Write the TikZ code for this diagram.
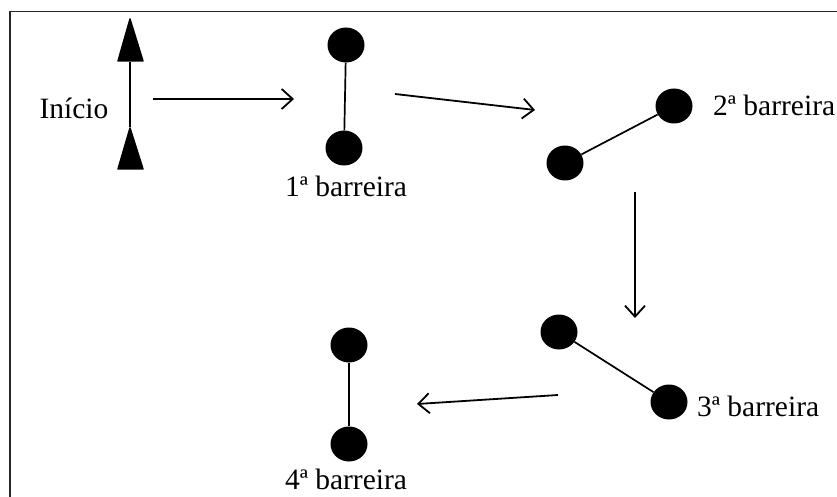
\documentclass[tikz,border=0pt]{standalone}
\usepackage{fontspec}
\setmainfont{Liberation Serif}
\usetikzlibrary{arrows.meta,shapes.geometric}
\begin{document}
\begin{tikzpicture}[x=1pt,y=-1pt,
  ball/.style={ellipse,fill=black,inner sep=0pt,minimum width=37pt,minimum height=35pt},
  rod/.style={line width=1.7pt},
  flow/.style={line width=1.8pt,-{Straight Barb[length=11pt,width=20pt,line width=1.8pt]}},
  lbl/.style={font=\fontsize{29.5}{34}\selectfont,inner sep=0pt},
  flag/.style={fill=black,draw=black,line width=1.5pt,line join=round}]
\useasboundingbox (0,0) rectangle (837,497);
% frame
\draw[line width=1.5pt,color=black!85] (10,497) -- (10,11.5) -- (837,11.5);

% start marker: two pointed flags on a pole
\coordinate (poleTop) at (130,62);
\coordinate (poleBot) at (130,127);
\draw[flag] (130,19) -- (143,61) -- (118,61) -- cycle;
\draw[flag] (130,128) -- (143,169) -- (118,169) -- cycle;
\draw[line width=1.3pt] (poleTop) -- (poleBot);
\node[lbl] (inicio) at (74,108) {Início};

% barrier 1
\node[ball] (b1a) at (346,45) {};
\node[ball] (b1b) at (344,148) {};
\draw[rod] (b1a) -- (b1b);
\node[lbl] (l1) at (346,186) {1ª barreira};

% barrier 2
\node[ball] (b2a) at (674,106) {};
\node[ball] (b2b) at (565,163) {};
\draw[rod] (b2a) -- (b2b);
\node[lbl,anchor=west] (l2) at (713,105) {2ª barreira};

% barrier 3
\node[ball] (b3a) at (559,332) {};
\node[ball] (b3b) at (669,402) {};
\draw[rod] (b3a) -- (b3b);
\node[lbl,anchor=west] (l3) at (697,406) {3ª barreira};

% barrier 4
\node[ball] (b4a) at (349,345) {};
\node[ball] (b4b) at (349,444) {};
\draw[rod] (b4a) -- (b4b);
\node[lbl] (l4) at (346,479) {4ª barreira};

% path arrows
\coordinate (f1s) at (153,99);  \coordinate (f1e) at (294,99);
\coordinate (f2s) at (395,94);  \coordinate (f2e) at (535,110);
\coordinate (f3s) at (635,192); \coordinate (f3e) at (635,318);
\coordinate (f4s) at (558,395); \coordinate (f4e) at (417,404);
\draw[flow] (f1s) -- (f1e);
\draw[flow] (f2s) -- (f2e);
\draw[flow] (f3s) -- (f3e);
\draw[flow] (f4s) -- (f4e);
\end{tikzpicture}
\end{document}
